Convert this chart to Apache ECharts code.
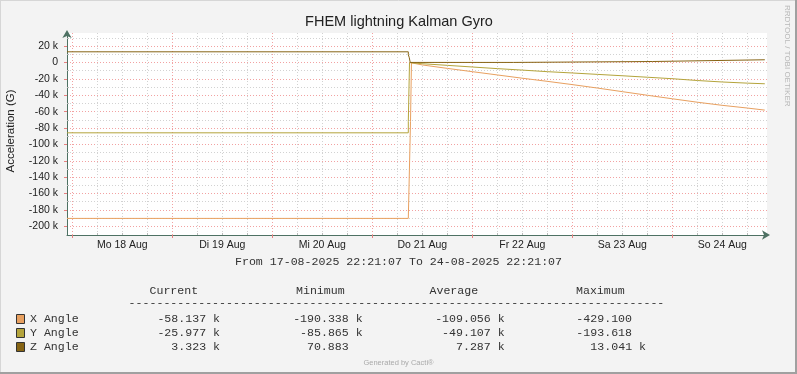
<!DOCTYPE html>
<html><head><meta charset="utf-8">
<script src="https://cdn.jsdelivr.net/npm/echarts@6/dist/echarts.min.js"></script>
<style>html,body{margin:0;padding:0;background:#f3f3f3}#c{width:797px;height:374px}</style>
</head><body><div id="c"></div><script>
// time in hours since Mo 18 Aug 00:00, values in k (thousands of G)
const xAngleTimes  = [-1.272, 80.64, 81.17, 81.40, 84, 90, 96, 102, 108, 114, 120, 126, 132, 138, 144, 150, 156, 162, 166.2];
const xAngleValues = [-190.338, -190.338, -72.0, -0.43, -3.0, -7.2, -11.2, -15.2, -19.2, -23.0, -27.0, -31.2, -35.6, -40.0, -44.3, -48.5, -52.3, -55.6, -58.137];
const yAngleTimes  = [-1.272, 80.64, 80.64, 80.93, 80.93, 84, 90, 96, 102, 108, 114, 120, 126, 132, 138, 144, 150, 156, 162, 166.2];
const yAngleValues = [-85.865, -85.865, -72.0, -72.0, -0.19, -1.5, -3.5, -5.5, -7.5, -9.3, -11.2, -12.8, -14.5, -16.2, -18.0, -19.8, -22.0, -23.8, -25.2, -25.977];
const zAngleTimes  = [-1.272, 80.64, 80.64, 80.85, 80.85, 81.10, 81.10, 105.84, 105.84, 139.3, 139.3, 166.2];
const zAngleValues = [13.041, 13.041, 9.4, 9.4, 6.4, 6.4, 0.071, 0.071, 1.2, 1.2, 3.323, 3.323];

const dayLabels = ['Mo 18 Aug', 'Di 19 Aug', 'Mi 20 Aug', 'Do 21 Aug', 'Fr 22 Aug', 'Sa 23 Aug', 'So 24 Aug'];
const dayLabelHours = [12, 36, 60, 84, 108, 132, 156];
const midnightHours = [0, 24, 48, 72, 96, 120, 144];
const sixHourGrid = [6, 12, 18, 30, 36, 42, 54, 60, 66, 78, 84, 90, 102, 108, 114, 126, 132, 138, 150, 156, 162];
const yMajorTicks = [20, 0, -20, -40, -60, -80, -100, -120, -140, -160, -180, -200];
const yMinorTicks = [30, 10, -10, -30, -50, -70, -90, -110, -130, -150, -170, -190];

const seriesNames = ['X Angle', 'Y Angle', 'Z Angle'];
const seriesColors = ['#E8A060', '#B4A43C', '#866414'];
const currentVals = ['-58.137 k', '-25.977 k', '3.323 k'];
const minimumVals = ['-190.338 k', '-85.865 k', '70.883'];
const averageVals = ['-109.056 k', '-49.107 k', '7.287 k'];
const maximumVals = ['-429.100', '-193.618', '13.041 k'];

const X_MIN = -1.272, X_MAX = 166.728, Y_MIN = -210.6, Y_MAX = 36;
const AXIS = '#4E7163', RED = '#F2A2A2', GRAY = '#D2D2D2';
const SANS = '"Liberation Sans", Arial, sans-serif';
const MONO = '"Liberation Mono", "Courier New", monospace';

function zip(t, v) { return t.map((x, i) => [x, v[i]]); }

const chart = echarts.init(document.getElementById('c'), null, {renderer: 'canvas'});

const graphics = [];
function txt(x, y, text, font, fill, align, rot, vAlign) {
  graphics.push({type: 'text', x: x, y: y, rotation: rot || 0, silent: true,
    style: {text: text, font: font, fill: fill, align: align || 'left', verticalAlign: vAlign || 'middle'}});
}
// frame
graphics.push({type: 'line', shape: {x1: 0.5, y1: 0, x2: 0.5, y2: 374}, style: {stroke: '#D6D6D6', lineWidth: 1}});
graphics.push({type: 'line', shape: {x1: 0, y1: 0.5, x2: 797, y2: 0.5}, style: {stroke: '#D6D6D6', lineWidth: 1}});
graphics.push({type: 'line', shape: {x1: 796, y1: 0, x2: 796, y2: 374}, style: {stroke: '#A0A0A0', lineWidth: 2}});
graphics.push({type: 'line', shape: {x1: 0, y1: 373, x2: 797, y2: 373}, style: {stroke: '#A0A0A0', lineWidth: 2}});

txt(399, 22, 'FHEM lightning Kalman Gyro', '14.5px ' + SANS, '#222', 'center');
txt(11, 131, 'Acceleration (G)', '11.5px ' + SANS, '#222', 'center', Math.PI / 2);
txt(787, 5, 'RRDTOOL / TOBI OETIKER', '8px ' + SANS, '#B8B8B8', 'left', -Math.PI / 2);
txt(398.5, 262, 'From 17-08-2025 22:21:07 To 24-08-2025 22:21:07', '11.6px ' + MONO, '#333', 'center');

// legend table
const MF = '11.6px ' + MONO;
txt(149.5, 291, 'Current', MF, '#333');
txt(296, 291, 'Minimum', MF, '#333');
txt(429.5, 291, 'Average', MF, '#333');
txt(576, 291, 'Maximum', MF, '#333');
txt(128.6, 303, '-'.repeat(77), MF, '#333');
const colEnds = [206, 348.7, 490.7, 632];
const rowY = [319, 333, 347];
const cols = [currentVals, minimumVals, averageVals, maximumVals];
seriesNames.forEach((name, i) => {
  graphics.push({type: 'rect', shape: {x: 16.5, y: rowY[i] - 4.5, width: 8, height: 9},
    style: {fill: seriesColors[i], stroke: '#333', lineWidth: 1}});
  txt(30, rowY[i], name, MF, '#333');
  cols.forEach((col, c) => {
    const s = col[i];
    const hasUnit = / k$/.test(s);
    txt(colEnds[c] + (hasUnit ? 14 : 0), rowY[i], s, MF, '#333', 'right');
  });
});
txt(398.5, 363, 'Generated by Cacti®', '7.5px ' + SANS, '#AAAAAA', 'center');

const option = {
  animation: false,
  backgroundColor: '#F3F3F3',
  grid: {left: 67, top: 33, width: 700, height: 202, show: true, backgroundColor: '#FFFFFF', borderWidth: 0, containLabel: false, outerBoundsMode: 'none'},
  xAxis: [
    {type: 'value', min: X_MIN, max: X_MAX, position: 'bottom',
     axisLine: {show: true, onZero: false, lineStyle: {color: AXIS, width: 1}, symbol: ['none', 'arrow'], symbolSize: [7, 8], symbolOffset: [0, 3]},
     axisTick: {show: true, customValues: midnightHours, length: 3, inside: false, lineStyle: {color: '#E88080'}},
     axisLabel: {show: true, customValues: dayLabelHours, formatter: v => dayLabels[dayLabelHours.indexOf(Math.round(v))] || '',
       margin: 5, fontSize: 10.5, fontFamily: SANS, color: '#222'},
     splitLine: {show: true, lineStyle: {color: RED, width: 1, type: [1, 2]}}},
    {type: 'value', min: X_MIN, max: X_MAX, position: 'bottom',
     axisLine: {show: false, onZero: false},
     axisTick: {show: true, customValues: sixHourGrid, length: 2, inside: true, lineStyle: {color: '#BBBBBB'}},
     axisLabel: {show: false},
     splitLine: {show: true, lineStyle: {color: GRAY, width: 1, type: [1, 2]}}}
  ],
  yAxis: [
    {type: 'value', min: Y_MIN, max: Y_MAX, position: 'left',
     axisLine: {show: true, onZero: false, lineStyle: {color: AXIS, width: 1}, symbol: ['none', 'arrow'], symbolSize: [7, 8], symbolOffset: [0, 3]},
     axisTick: {show: true, customValues: yMajorTicks, length: 3, lineStyle: {color: '#E88080'}},
     axisLabel: {show: true, customValues: yMajorTicks, formatter: v => (v === 0 ? '0' : v + ' k'),
       margin: 9, fontSize: 10.5, fontFamily: SANS, color: '#222'},
     splitLine: {show: true, lineStyle: {color: RED, width: 1, type: [1, 2]}}},
    {type: 'value', min: Y_MIN, max: Y_MAX, position: 'left',
     axisLine: {show: false, onZero: false},
     axisTick: {show: true, customValues: yMinorTicks, length: 2, inside: true, lineStyle: {color: '#BBBBBB'}},
     axisLabel: {show: false},
     splitLine: {show: true, lineStyle: {color: GRAY, width: 1, type: [1, 2]}}}
  ],
  series: [
    {name: seriesNames[0], type: 'line', xAxisIndex: 0, yAxisIndex: 0, data: zip(xAngleTimes, xAngleValues), showSymbol: false, lineStyle: {width: 1, color: seriesColors[0]}, itemStyle: {color: seriesColors[0]}},
    {name: seriesNames[1], type: 'line', xAxisIndex: 0, yAxisIndex: 0, data: zip(yAngleTimes, yAngleValues), showSymbol: false, lineStyle: {width: 1, color: seriesColors[1]}, itemStyle: {color: seriesColors[1]}},
    {name: seriesNames[2], type: 'line', xAxisIndex: 0, yAxisIndex: 0, data: zip(zAngleTimes, zAngleValues), showSymbol: false, lineStyle: {width: 1, color: seriesColors[2]}, itemStyle: {color: seriesColors[2]}}
  ],
  graphic: graphics
};
chart.setOption(option);
</script></body></html>
